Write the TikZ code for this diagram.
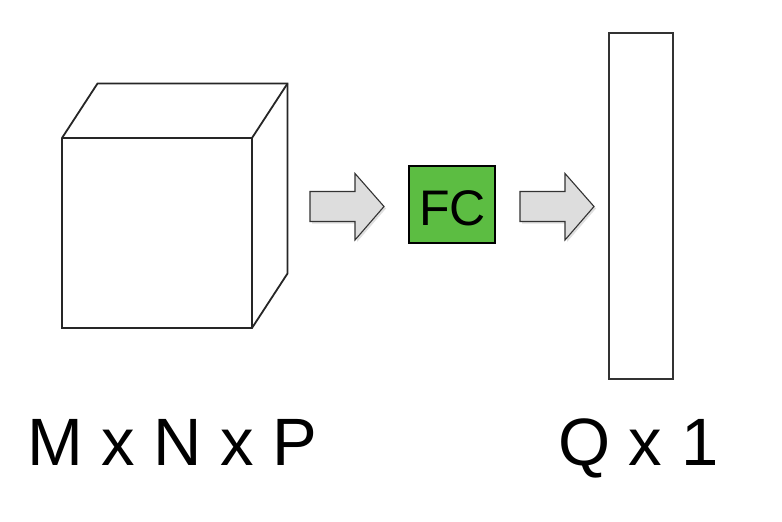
\documentclass[tikz,border=0pt]{standalone}
\usepackage{fontspec}
\setmainfont{Liberation Sans}
\usetikzlibrary{shadows}
\definecolor{fcgreen}{HTML}{5CBD42}
\definecolor{arrowgray}{HTML}{DDDDDD}
\begin{document}
\begin{tikzpicture}[x=1pt,y=-1pt,
  edge/.style={draw=black!85, line width=1.8pt, line join=miter},
  blockarrow/.style={draw=black!80, line width=1.1pt, fill=arrowgray,
    drop shadow={opacity=0.25, shadow xshift=2pt, shadow yshift=-2pt}},
  label/.style={inner sep=0pt, anchor=base west, font=\fontsize{67}{80}\selectfont}]
\useasboundingbox (0,0) rectangle (782,522);
% cube
\coordinate (fa) at (62,138);
\coordinate (fb) at (252,138);
\coordinate (fc) at (252,328);
\coordinate (fd) at (62,328);
\coordinate (ba) at (97.5,83.5);
\coordinate (bb) at (287.5,83.5);
\coordinate (bc) at (287.5,273.5);
\draw[edge, fill=white] (fa) -- (ba) -- (bb) -- (bc) -- (fc) -- (fd) -- cycle;
\draw[edge] (fa) -- (fb) -- (fc);
\draw[edge] (fb) -- (bb);
% arrows
\draw[blockarrow] (310,191.5) -- (355,191.5) -- (355,173.5) -- (384,206.5) -- (355,240) -- (355,221.5) -- (310,221.5) -- cycle;
\draw[blockarrow] (520,191.5) -- (565,191.5) -- (565,173.5) -- (594,206.5) -- (565,240) -- (565,221.5) -- (520,221.5) -- cycle;
% FC
\node (fcbox) [draw=black, line width=2pt, fill=fcgreen, minimum width=86pt, minimum height=77pt, inner sep=0pt] at (451.7,204) {};
\node (fctext) [inner sep=0pt, font=\fontsize{50}{56}\selectfont] at (452.5,208) {FC};
% output vector
\node (vec) [draw=black!80, line width=2pt, fill=white, minimum width=64pt, minimum height=346.5pt, inner sep=0pt] at (641.3,206) {};
% labels
\node (lin) [label] at (27,465) {M x N x P};
\node (lout) [label] at (558,465) {Q x 1};
\end{tikzpicture}
\end{document}
